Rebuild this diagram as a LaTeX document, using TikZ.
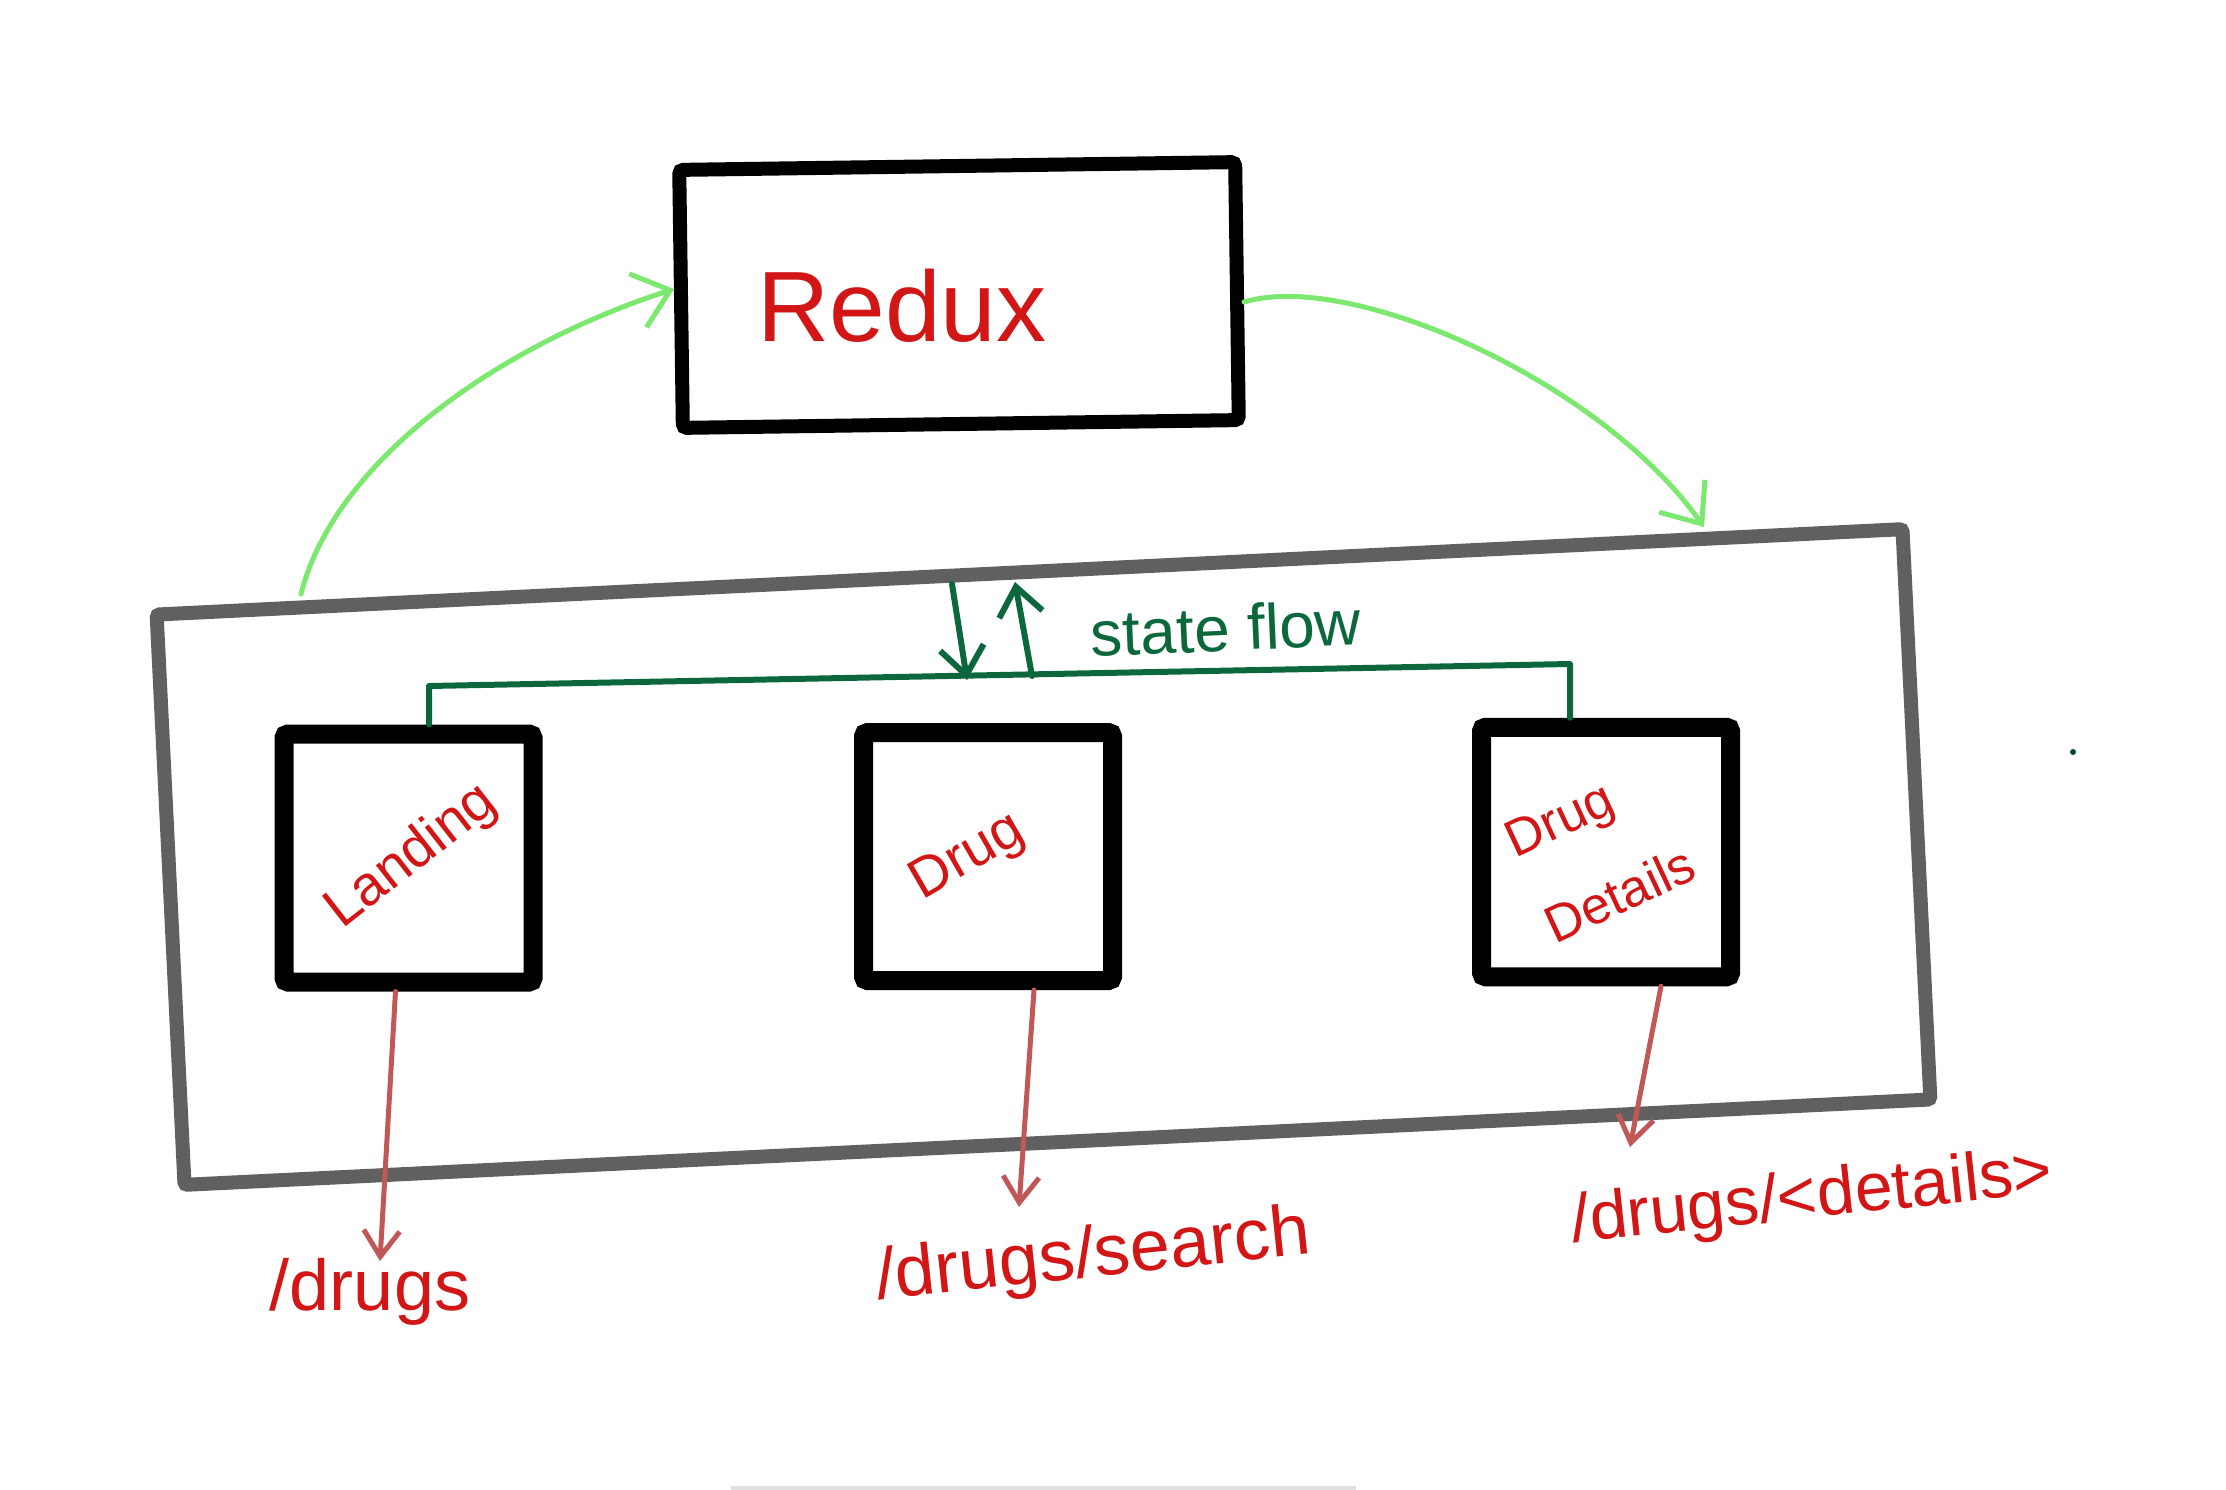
\documentclass[tikz,border=0pt]{standalone}
\usepackage{fontspec}
\setmainfont{Liberation Sans}
\usetikzlibrary{arrows.meta,calc}
\definecolor{redtxt}{RGB}{210,22,22}
\definecolor{routec}{RGB}{192,88,88}
\definecolor{darkg}{RGB}{12,104,60}
\definecolor{lightg}{RGB}{125,232,112}
\definecolor{frameg}{RGB}{96,96,96}
\begin{document}
\begin{tikzpicture}[x=1pt,y=-1pt,
  pagebox/.style={draw=black,line width=19pt,rounded corners=4pt,minimum width=249pt,minimum height=248pt,inner sep=0pt},
  hand/.style={text=redtxt,inner sep=0pt},
  route/.style={draw=routec,line width=5pt,line cap=round,-{Straight Barb[length=26pt,width=36pt]}},
  storeflow/.style={draw=lightg,line width=5pt,line cap=round,-{Straight Barb[length=34pt,width=56pt]}},
  stateflow/.style={draw=darkg,line width=6pt,line cap=round,line join=round},
  statearrow/.style={stateflow,-{Straight Barb[length=28pt,width=44pt]}}]
\useasboundingbox (0,0) rectangle (2226,1490);
\fill[white] (0,0) rectangle (2226,1490);

% outer app frame
\node[draw=frameg,line width=14pt,rounded corners=3pt,minimum width=1748pt,minimum height=571pt,inner sep=0pt,rotate=2.8] (app) at (1043.5,857) {};

% redux store
\node[draw=black,line width=14pt,rounded corners=4pt,minimum width=556pt,minimum height=258pt,inner sep=0pt,rotate=0.8] (redux) at (959,295) {};
\node[hand,font=\fontsize{100}{110}\selectfont] (reduxt) at (902,306) {Redux};

% pages
\node[pagebox] (landing) at (408.5,858) {};
\node[pagebox] (drug) at (988,856.5) {};
\node[pagebox,minimum height=249.5pt] (details) at (1606,852) {};

\node[hand,rotate=38,font=\fontsize{56}{60}\selectfont] (landingt) at (412,857) {Landing};
\node[hand,rotate=30,font=\fontsize{56}{60}\selectfont] (drugt) at (968,858) {Drug};
\node[hand,rotate=25,align=left,font=\fontsize{52}{95}\selectfont] (detailst) at (1600,852) {Drug\\Details};

% store flows
\coordinate (gl) at (301,594);
\coordinate (gr) at (1704,527);
\draw[storeflow] (gl) .. controls (335,460) and (500,345) .. ([yshift=10pt]redux.west);
\draw[storeflow] ([yshift=-11pt]redux.east) .. controls (1350,270) and (1600,380) .. (gr);

% state bus
\coordinate (busl) at (429,686);
\coordinate (busr) at (1570,664);
\draw[stateflow] ([xshift=20.5pt]landing.north) -- (busl) -- (busr) -- ([xshift=-36pt]details.north);
\coordinate (dnA) at (952,584);
\coordinate (dnB) at (967,680);
\coordinate (upA) at (1032,676);
\coordinate (upB) at (1015,582);
\draw[statearrow] (dnA) -- (dnB);
\draw[statearrow] (upA) -- (upB);
\node[text=darkg,inner sep=0pt,rotate=2.5,font=\fontsize{64}{70}\selectfont] (sft) at (1226,628) {state flow};

% routes
\coordinate (r1) at (380,1261);
\coordinate (r2) at (1019,1207);
\coordinate (r3) at (1630,1147);
\draw[route] ([xshift=-13pt]landing.south) -- (r1);
\draw[route] ([xshift=46pt]drug.south) -- (r2);
\draw[route] ([xshift=55pt]details.south) -- (r3);
\node[hand,font=\fontsize{72}{80}\selectfont] (rt1) at (370,1292) {/drugs};
\node[hand,rotate=6,font=\fontsize{72}{80}\selectfont] (rt2) at (1093,1258) {/drugs/search};
\node[hand,rotate=6,font=\fontsize{68}{74}\selectfont] (rt3) at (1812,1200) {/drugs/\textless details\textgreater};

% stray dot and bottom bar
\fill[darkg!70!black] (2073,752) circle (3pt);
\draw[black!12,line width=4pt] (731,1488) -- (1356,1488);
\end{tikzpicture}
\end{document}
